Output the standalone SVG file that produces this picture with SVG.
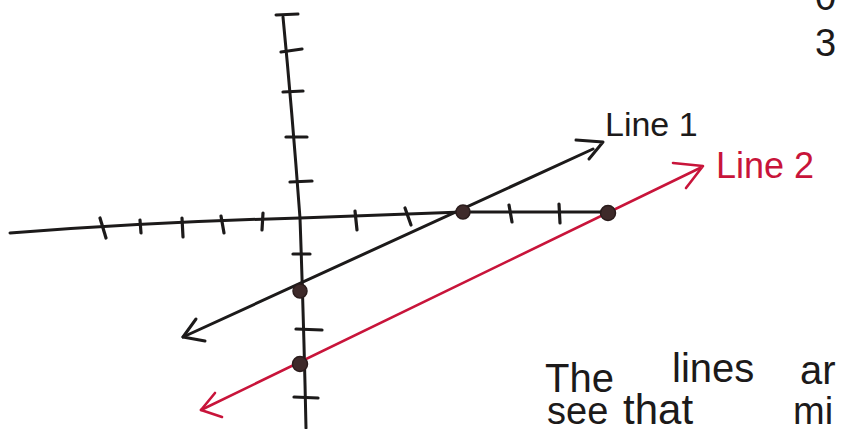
<svg xmlns="http://www.w3.org/2000/svg" width="855" height="429" viewBox="0 0 855 429">
<style>
.ink{fill:none;stroke:#1c1a1a;stroke-width:3;stroke-linecap:round;stroke-linejoin:round}
.red{fill:none;stroke:#c8143a;stroke-width:2.6;stroke-linecap:round;stroke-linejoin:round}
.tick{fill:none;stroke:#1c1a1a;stroke-width:3.2;stroke-linecap:round}
.dot{fill:#3e2a2a;stroke:#2a1c1c;stroke-width:1.5}
.hand{font-family:"Liberation Sans","DejaVu Sans",sans-serif;fill:#1c1a1a}
.handred{font-family:"Liberation Sans","DejaVu Sans",sans-serif;fill:#c8143a}
</style>
<rect width="855" height="429" fill="#ffffff"/>
<g id="axes">
  <path class="ink" d="M276 15 L298 14"/>
  <path class="ink" d="M283 17 Q292 110 300 218 Q304 330 306 428"/>
  <path class="ink" d="M10 233 Q150 222 300 218 L462 212 L608 212"/>
  <g id="y-ticks">
    <path class="tick" d="M281 52 L302 49"/>
    <path class="tick" d="M283 92 L303 91"/>
    <path class="tick" d="M286 137 L307 137"/>
    <path class="tick" d="M290 182 L312 181"/>
    <path class="tick" d="M293 254 L310 254"/>
    <path class="tick" d="M296 329 L322 330"/>
    <path class="tick" d="M294 397 L318 398"/>
  </g>
  <g id="x-ticks">
    <path class="tick" d="M100 218 L106 238"/>
    <path class="tick" d="M140 220 L141 233"/>
    <path class="tick" d="M182 218 L183 237"/>
    <path class="tick" d="M221 216 L224 233"/>
    <path class="tick" d="M263 213 L262 230"/>
    <path class="tick" d="M355 211 L357 230"/>
    <path class="tick" d="M405 208 L411 225"/>
    <path class="tick" d="M509 205 L512 222"/>
    <path class="tick" d="M559 204 L560 223"/>
  </g>
</g>
<g id="connectors">
  <g id="line1">
    <path class="ink" d="M183 337 L593 149"/>
    <path class="ink" d="M196 319 L183 337 L205 341"/>
    <path class="ink" d="M576 140 L603 142 L589 159"/>
  </g>
  <g id="line2">
    <path class="red" d="M201 410 L700 168"/>
    <path class="red" d="M215 393 L201 410 L222 417"/>
    <path class="red" d="M673 163 L703 166 L686 188"/>
  </g>
</g>
<g id="points">
  <circle class="dot" cx="463" cy="212" r="7"/>
  <circle class="dot" cx="608" cy="213" r="7.5"/>
  <circle class="dot" cx="300" cy="291" r="7"/>
  <circle class="dot" cx="300" cy="364" r="7.5"/>
</g>
<g id="labels">
  <text class="hand" x="605" y="136" font-size="34">Line 1</text>
  <text class="handred" x="716" y="178" font-size="36">Line 2</text>
  <text class="hand" x="815" y="10" font-size="38">0</text>
  <text class="hand" x="815" y="56" font-size="38">3</text>
  <text class="hand" font-size="40" y="392"><tspan x="545">The </tspan><tspan x="672" y="382">lines </tspan><tspan x="800" y="384">ar</tspan></text>
  <text class="hand" font-size="38" y="424"><tspan x="547">see </tspan><tspan x="623" font-size="42">that </tspan><tspan x="793">mi</tspan></text>
</g>
</svg>
